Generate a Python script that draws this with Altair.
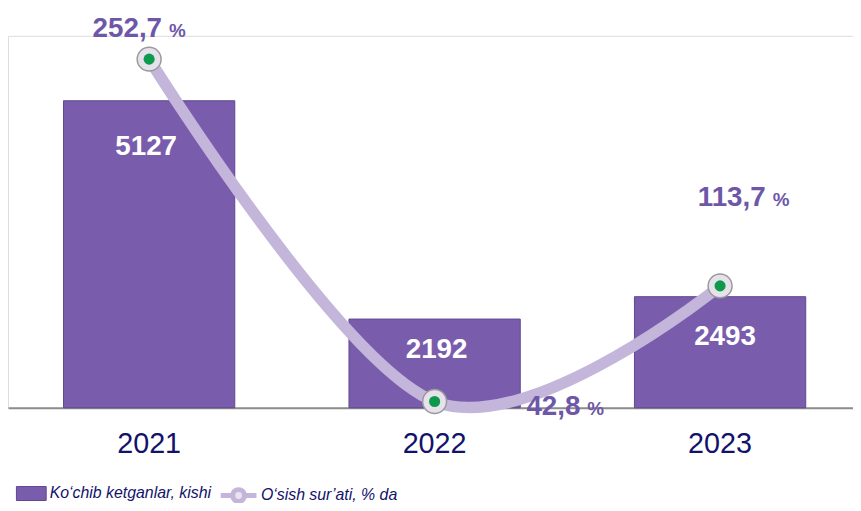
import altair as alt
import pandas as pd

# ---- data ----
years = ["2021", "2022", "2023"]
migrants = [5127, 2192, 2493]          # Ko‘chib ketganlar, kishi
growth = [252.7, 42.8, 113.7]          # O‘sish sur’ati, % da
bar_series = "Ko‘chib ketganlar, kishi"
line_series = "O‘sish sur’ati, % da"

df = pd.DataFrame({
    "year": years,
    "migrants": migrants,
    "growth": growth,
    "bar_series": [bar_series] * len(years),
    "line_series": [line_series] * len(years),
})

# ---- styles ----
FONT = "Liberation Sans"
PURPLE = "#7A5CAD"
PURPLE_EDGE = "#5E4790"
LAVENDER = "#C4B5DB"
LABEL_PURPLE = "#6E57A8"
NAVY = "#12126B"

y_bar_scale = alt.Scale(domain=[1000, 6000], zero=False, clamp=True)
y_line_scale = alt.Scale(domain=[39, 267], zero=False)

x_enc = alt.X(
    "year:N",
    scale=alt.Scale(paddingInner=0.4, paddingOuter=0.18, align=0.54),
    axis=alt.Axis(
        title=None, labelAngle=0, ticks=False, labelFont=FONT, labelFontSize=29,
        labelColor=NAVY, domainColor="#8C8C8C", domainWidth=2, labelPadding=22,
        grid=False,
    ),
)

base = alt.Chart(df).transform_calculate(
    glabel="replace(format(datum.growth, '.1f'), '.', ',')"
)

legend_label = dict(
    labelFont=FONT, labelFontSize=16, labelFontStyle="italic",
    labelColor=NAVY, labelLimit=0,
)

bars = base.mark_bar(stroke=PURPLE_EDGE, strokeWidth=1).encode(
    x=x_enc,
    y=alt.Y("migrants:Q", scale=y_bar_scale, axis=None),
    fill=alt.Fill(
        "bar_series:N",
        scale=alt.Scale(range=[PURPLE]),
        legend=alt.Legend(
            title=None, orient="none", legendX=8, legendY=446, padding=0,
            symbolType="M-1,-0.47H1V0.47H-1Z", symbolSize=900,
            symbolStrokeColor=PURPLE_EDGE, symbolStrokeWidth=1,
            labelOffset=3, **legend_label,
        ),
    ),
)


def bar_label(year, dx, dy):
    return base.transform_filter(alt.datum.year == year).mark_text(
        align="center", baseline="alphabetic", dx=dx, dy=dy,
        font=FONT, fontSize=28, fontWeight="bold", color="white",
    ).encode(
        x=x_enc,
        y=alt.Y("migrants:Q", scale=y_bar_scale, axis=None),
        text=alt.Text("migrants:Q", format="d"),
    )


bar_layers = alt.layer(
    bars,
    bar_label("2021", -3, 55),
    bar_label("2022", 2, 39),
    bar_label("2023", 5, 49),
)

line = base.mark_line(interpolate="cardinal", strokeWidth=11.5, strokeCap="round").encode(
    x=x_enc,
    y=alt.Y("growth:Q", scale=y_line_scale, axis=None),
    stroke=alt.Stroke(
        "line_series:N",
        scale=alt.Scale(range=[LAVENDER]),
        legend=alt.Legend(
            title=None, orient="none", legendX=212, legendY=443, padding=0,
            symbolType="M-1,0H-0.33M0.33,0H1M0.33,0A0.33,0.33 0 1 1 -0.33,0A0.33,0.33 0 1 1 0.33,0",
            symbolSize=1296, symbolStrokeWidth=5, symbolFillColor="#E8E5EE",
            labelOffset=2, **legend_label,
        ),
    ),
)

outer = base.mark_circle(size=580, fill="#E6E2EC", stroke="#9A9A9A", strokeWidth=1.5, opacity=1).encode(
    x=x_enc, y=alt.Y("growth:Q", scale=y_line_scale, axis=None)
)
inner = base.mark_circle(size=125, fill="#0E9A4C", opacity=1).encode(
    x=x_enc, y=alt.Y("growth:Q", scale=y_line_scale, axis=None)
)


def pct_label(year, dx, dy):
    b = base.transform_filter(alt.datum.year == year).encode(
        x=x_enc, y=alt.Y("growth:Q", scale=y_line_scale, axis=None)
    )
    num = b.mark_text(
        align="right", baseline="alphabetic", dx=dx, dy=dy,
        font=FONT, fontSize=28, fontWeight="bold", color=LABEL_PURPLE,
    ).encode(text="glabel:N")
    pct = b.mark_text(
        align="left", baseline="alphabetic", dx=dx + 7, dy=dy,
        font=FONT, fontSize=19, fontWeight="bold", color=LABEL_PURPLE,
    ).encode(text=alt.value("%"))
    return [num, pct]


line_layers = alt.layer(
    line, outer, inner,
    *pct_label("2021", 13, -22),
    *pct_label("2022", 147, 14),
    *pct_label("2023", 46, -81),
)

chart = alt.layer(bar_layers, line_layers).resolve_scale(
    y="independent", fill="independent", stroke="independent"
).properties(
    width=852, height=375,
    padding={"left": 0, "top": 26, "right": 0, "bottom": 94},
    autosize=alt.AutoSizeParams(type="none"),
).configure_view(
    stroke="#E4E4E4", strokeWidth=1.5
).configure(background="white")

chart.save("out.html", embed_options={"renderer": "svg", "actions": False})
